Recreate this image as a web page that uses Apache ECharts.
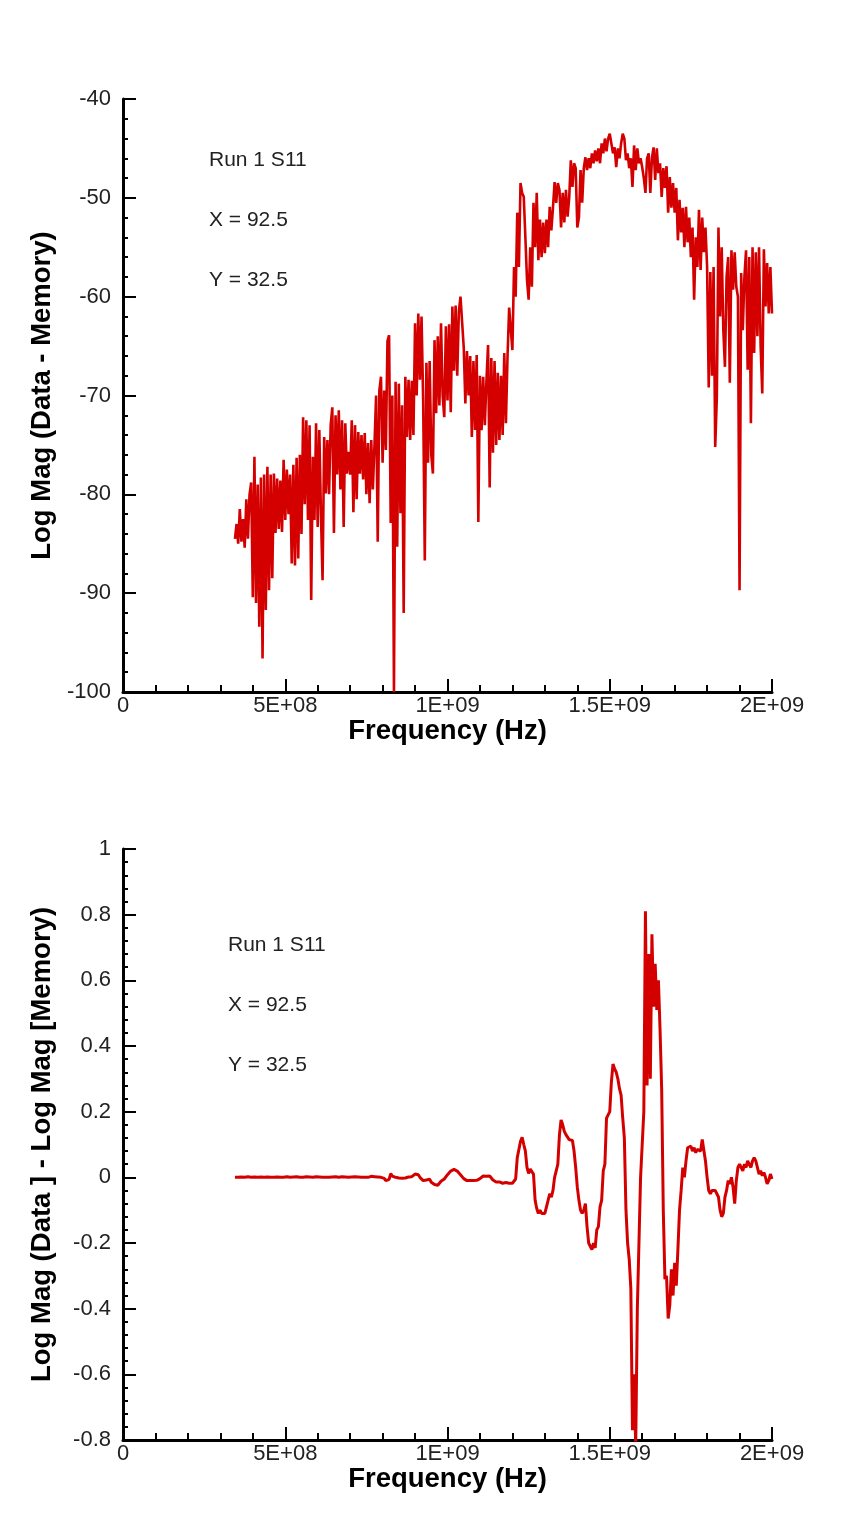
<!DOCTYPE html>
<html>
<head>
<meta charset="utf-8">
<script src="https://cdn.jsdelivr.net/npm/echarts@6/dist/echarts.min.js"></script>
<style>
html,body{margin:0;padding:0;background:#fff;}
#chart{width:867px;height:1521px;}
</style>
</head>
<body>
<div id="chart"></div>
<script>
// Frequency sweep: 345 MHz to 2000 MHz in 5 MHz steps
const sweepStartHz = 3.45e8;
const sweepStepHz = 5e6;

const xTickLabels = ['0', '5E+08', '1E+09', '1.5E+09', '2E+09'];

// Top: Log Mag (Data - Memory), dB
const topValues = [
  -84.5, -83.0, -85.0, -81.5, -84.8, -82.5, -85.4, -80.5, -84.5, -80.0,
  -78.8, -90.4, -76.2, -91.0, -79.0, -93.4, -78.3, -96.6, -78.0, -91.7,
  -77.2, -89.7, -78.0, -88.5, -77.9, -83.9, -78.4, -83.5, -78.6, -83.8,
  -76.5, -82.6, -77.5, -82.0, -78.0, -87.0, -77.0, -87.2, -76.3, -86.5,
  -76.0, -84.0, -72.2, -81.0, -72.5, -82.6, -73.0, -90.7, -76.2, -82.6,
  -72.8, -83.3, -73.5, -82.0, -88.7, -74.2, -79.9, -74.5, -80.0, -73.0,
  -71.2, -83.9, -72.0, -78.0, -71.5, -79.5, -72.5, -83.3, -72.8, -77.9,
  -75.7, -78.0, -72.5, -81.8, -73.0, -80.5, -73.7, -77.9, -74.0, -78.5,
  -73.8, -80.0, -74.8, -80.9, -74.5, -79.5, -75.0, -70.0, -84.8, -69.5,
  -68.1, -76.8, -69.5, -75.5, -64.5, -63.9, -82.9, -70.0, -100.0, -68.6,
  -85.3, -68.8, -81.9, -71.0, -92.0, -68.1, -74.2, -68.4, -74.5, -68.5,
  -74.0, -62.7, -70.0, -61.7, -68.4, -62.0, -70.5, -86.7, -66.7, -76.8,
  -66.5, -76.0, -77.9, -64.4, -71.8, -64.0, -71.0, -62.7, -70.0, -72.2,
  -63.0, -70.5, -62.8, -71.7, -61.0, -67.5, -60.9, -68.0, -61.5, -60.0,
  -59.9, -65.1, -70.8, -65.5, -70.0, -66.0, -74.2, -66.5, -73.5, -65.9,
  -82.8, -68.0, -73.5, -68.1, -73.0, -68.5, -64.9, -79.3, -66.2, -75.8,
  -66.5, -75.0, -67.7, -74.5, -68.0, -74.0, -65.7, -72.8, -66.0, -61.1,
  -61.1, -65.4, -57.0, -60.0, -51.5, -57.0, -48.5, -49.5, -49.9, -54.0,
  -58.3, -60.3, -55.0, -59.0, -50.5, -55.0, -49.5, -56.3, -52.2, -56.0,
  -52.5, -55.6, -52.2, -55.0, -50.9, -53.3, -51.0, -48.4, -50.5, -48.5,
  -49.2, -53.0, -49.5, -52.5, -49.2, -51.9, -50.0, -46.2, -48.9, -46.5,
  -47.0, -53.0, -52.0, -47.2, -50.5, -47.0, -45.9, -47.2, -46.0, -47.0,
  -45.5, -46.5, -45.2, -46.3, -45.0, -46.5, -44.5, -45.5, -44.0, -45.3,
  -44.0, -43.5, -44.5, -45.5, -44.9, -46.9, -45.0, -46.0, -44.5, -43.5,
  -44.0, -46.2, -45.5, -47.0, -46.0, -48.9, -44.7, -47.2, -45.0, -46.5,
  -46.0, -46.9, -48.0, -49.5, -46.0, -45.5, -49.5, -46.0, -44.9, -48.2,
  -45.0, -47.5, -46.5, -49.9, -47.0, -49.0, -46.8, -51.5, -47.9, -51.0,
  -48.5, -51.5, -49.0, -54.3, -50.2, -53.5, -51.0, -55.0, -50.9, -54.5,
  -52.0, -56.0, -53.0, -60.3, -54.0, -57.0, -51.2, -57.3, -52.0, -55.5,
  -53.0, -57.0, -69.2, -57.5, -68.0, -57.0, -75.2, -70.2, -53.0, -62.0,
  -55.0, -63.4, -67.1, -58.0, -56.0, -68.7, -55.3, -59.3, -55.5, -59.0,
  -60.0, -89.7, -57.6, -63.4, -58.0, -55.3, -67.4, -56.0, -72.8, -55.0,
  -65.7, -55.5, -64.0, -55.0, -65.0, -69.8, -55.2, -61.0, -56.6, -61.7,
  -57.0, -61.7
];

// Bottom: Log Mag (Data) - Log Mag (Memory)
const bottomValues = [
  0.000, 0.001, 0.000, 0.000, 0.001, 0.000, 0.000, 0.001, 0.002, 0.000,
  0.000, 0.000, 0.001, 0.000, 0.000, 0.000, 0.001, 0.000, 0.000, 0.000,
  0.001, 0.000, 0.000, 0.002, 0.000, 0.000, 0.001, 0.000, 0.000, 0.001,
  0.000, 0.000, 0.002, 0.001, 0.000, 0.000, 0.001, 0.000, 0.002, 0.000,
  0.000, 0.001, 0.000, 0.000, 0.002, 0.000, 0.001, 0.000, 0.000, 0.001,
  0.002, 0.000, 0.001, 0.000, 0.000, 0.002, 0.000, 0.001, 0.000, 0.000,
  0.001, 0.000, 0.002, 0.001, 0.000, 0.001, 0.002, 0.000, 0.001, 0.000,
  0.000, 0.002, 0.001, 0.000, 0.002, 0.000, 0.001, 0.003, 0.000, 0.001,
  0.000, 0.002, 0.000, 0.001, 0.003, 0.000, 0.002, 0.000, 0.001, 0.003,
  0.000, 0.002, -0.003, -0.010, -0.014, -0.006, 0.011, 0.004, -0.002, 0.000,
  -0.004, -0.002, 0.002, -0.003, 0.000, -0.002, 0.003, 0.001, 0.004, 0.002,
  0.006, 0.010, 0.013, 0.008, 0.000, -0.006, -0.010, -0.004, -0.008, -0.012,
  -0.006, -0.015, -0.018, -0.022, -0.024, -0.024, -0.018, -0.012, -0.010, -0.005,
  0.000, 0.008, 0.014, 0.019, 0.022, 0.024, 0.022, 0.019, 0.014, 0.008,
  0.002, -0.004, -0.008, -0.010, -0.009, -0.010, -0.008, -0.010, -0.007, -0.009,
  -0.006, -0.004, 0.000, 0.004, 0.006, 0.003, 0.006, 0.004, -0.002, -0.008,
  -0.010, -0.014, -0.016, -0.014, -0.016, -0.018, -0.015, -0.016, -0.020, -0.018,
  -0.015, -0.018, -0.012, -0.005, 0.060, 0.085, 0.110, 0.122, 0.100, 0.080,
  0.030, 0.012, 0.025, 0.028, 0.010, -0.070, -0.095, -0.110, -0.100, -0.110,
  -0.105, -0.110, -0.090, -0.070, -0.050, -0.060, -0.040, 0.000, 0.020, 0.040,
  0.130, 0.175, 0.160, 0.140, 0.130, 0.125, 0.115, 0.110, 0.112, 0.080,
  0.030, -0.030, -0.070, -0.100, -0.110, -0.100, -0.080, -0.150, -0.200, -0.210,
  -0.220, -0.200, -0.215, -0.160, -0.150, -0.090, -0.070, 0.020, 0.040, 0.180,
  0.190, 0.200, 0.290, 0.345, 0.330, 0.320, 0.300, 0.270, 0.250, 0.180,
  0.120, -0.100, -0.200, -0.250, -0.340, -0.770, -0.600, -0.820, -0.400, -0.200,
  0.000, 0.100, 0.200, 0.810, 0.280, 0.680, 0.300, 0.740, 0.520, 0.650,
  0.510, 0.600, 0.450, 0.270, -0.100, -0.310, -0.300, -0.430, -0.390, -0.280,
  -0.360, -0.260, -0.330, -0.220, -0.100, -0.040, 0.030, 0.000, 0.050, 0.090,
  0.085, 0.095, 0.080, 0.090, 0.075, 0.085, 0.090, 0.080, 0.115, 0.120,
  0.050, 0.000, -0.040, -0.050, -0.040, -0.045, -0.040, -0.035, -0.060, -0.100,
  -0.120, -0.110, -0.060, -0.040, -0.010, -0.020, 0.000, -0.030, -0.080, -0.010,
  0.030, 0.040, 0.035, 0.020, 0.040, 0.030, 0.050, 0.055, 0.030, 0.050,
  0.060, 0.050, 0.030, 0.010, 0.020, 0.005, 0.015, 0.000, -0.020, -0.010,
  0.010, -0.005
];

const annotationLines = ['Run 1 S11', 'X = 92.5', 'Y = 32.5'];

const FONT = '"Liberation Sans", Arial, sans-serif';
const lineColor = '#d40000';

function toPairs(vals) {
  return vals.map((v, i) => [sweepStartHz + i * sweepStepHz, v]);
}

function xAxisCfg(gridIndex) {
  return {
    type: 'value', gridIndex, min: 0, max: 2e9, interval: 5e8,
    axisLine: { show: true, onZero: false, lineStyle: { color: '#000', width: 3 } },
    axisTick: { show: true, inside: true, length: 13, lineStyle: { color: '#000', width: 2 } },
    minorTick: { show: true, splitNumber: 5, length: 7, lineStyle: { color: '#000', width: 2 } },
    splitLine: { show: false },
    axisLabel: {
      fontFamily: FONT, fontSize: 22, color: '#222', margin: 3,
      formatter: v => xTickLabels[Math.round(v / 5e8)]
    },
    name: 'Frequency (Hz)', nameLocation: 'middle', nameGap: 24,
    nameTextStyle: { fontFamily: FONT, fontSize: 27.5, fontWeight: 'bold', color: '#000' }
  };
}

function yAxisCfg(gridIndex, min, max, interval, name) {
  return {
    type: 'value', gridIndex, min, max, interval,
    axisLine: { show: true, onZero: false, lineStyle: { color: '#000', width: 3 } },
    axisTick: { show: true, inside: true, length: 13, lineStyle: { color: '#000', width: 2 } },
    minorTick: { show: true, splitNumber: 5, length: 5, lineStyle: { color: '#000', width: 2 } },
    splitLine: { show: false },
    axisLabel: { fontFamily: FONT, fontSize: 22, color: '#222', margin: 12 },
    name, nameLocation: 'middle', nameRotate: 90, nameGap: 67,
    nameTextStyle: { fontFamily: FONT, fontSize: 27.5, fontWeight: 'bold', color: '#000' }
  };
}

function annotation(left, firstTop) {
  return annotationLines.map((t, i) => ({
    type: 'text', left, top: firstTop + i * 60,
    style: { text: t, font: '21px ' + FONT, fill: '#222' }
  }));
}

const chart = echarts.init(document.getElementById('chart'), null, { renderer: 'canvas' });
chart.setOption({
  animation: false,
  backgroundColor: '#fff',
  grid: [
    { left: 123, top: 99, width: 649, height: 593 },
    { left: 123, top: 849, width: 649, height: 591 }
  ],
  xAxis: [xAxisCfg(0), xAxisCfg(1)],
  yAxis: [
    yAxisCfg(0, -100, -40, 10, 'Log Mag (Data - Memory)'),
    yAxisCfg(1, -0.8, 1, 0.2, 'Log Mag (Data ] - Log Mag [Memory)')
  ],
  series: [
    {
      type: 'line', xAxisIndex: 0, yAxisIndex: 0, data: toPairs(topValues),
      showSymbol: false, clip: true,
      lineStyle: { color: lineColor, width: 2.6 }
    },
    {
      type: 'line', xAxisIndex: 1, yAxisIndex: 1, data: toPairs(bottomValues),
      showSymbol: false, clip: true,
      lineStyle: { color: lineColor, width: 3 }
    }
  ],
  graphic: annotation(209, 150).concat(annotation(228, 935))
});
</script>
</body>
</html>
